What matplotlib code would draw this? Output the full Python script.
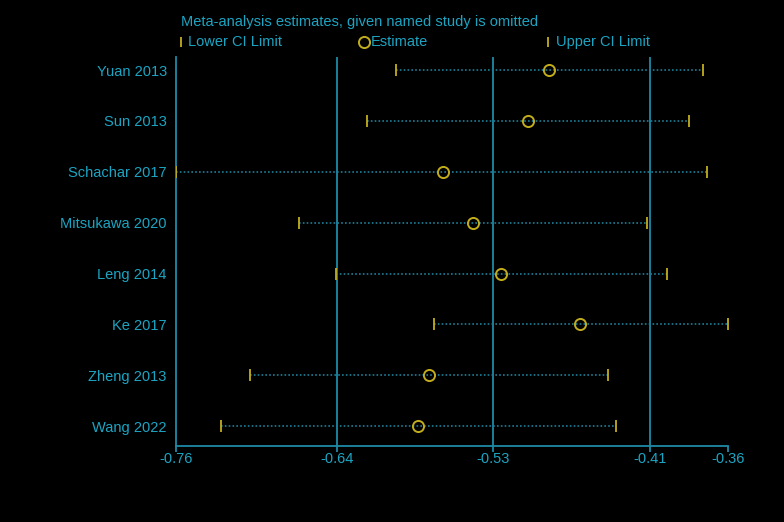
import matplotlib
matplotlib.use("Agg")
import matplotlib.pyplot as plt
from matplotlib.lines import Line2D

studies = ["Yuan 2013", "Sun 2013", "Schachar 2017", "Mitsukawa 2020",
           "Leng 2014", "Ke 2017", "Zheng 2013", "Wang 2022"]
estimate = [-0.490, -0.505, -0.567, -0.545, -0.525, -0.467, -0.577, -0.585]
lower_ci = [-0.601, -0.622, -0.760, -0.671, -0.644, -0.573, -0.707, -0.728]
upper_ci = [-0.378, -0.388, -0.375, -0.419, -0.404, -0.360, -0.447, -0.441]

tick_vals = [-0.760, -0.6436, -0.5304, -0.4166, -0.360]
tick_labels = ["-0.76", "-0.64", "-0.53", "-0.41", "-0.36"]
ref_lines = tick_vals[1:4]

txt_col = "#1ba5c3"
line_col = "#1d8aa6"
dot_col = "#1e7d98"
yel = "#c2ad1c"

plt.rcParams["font.family"] = ["Liberation Sans", "DejaVu Sans"]

fig = plt.figure(figsize=(7.84, 5.22), dpi=100, facecolor="black")
ax = fig.add_axes([0.2251, 0.1456, 0.9286 - 0.2251, 0.8908 - 0.1456])
ax.set_facecolor("black")

n = len(studies)
ypos = list(range(n, 0, -1))

for x in ref_lines:
    ax.axvline(x, color=line_col, lw=1.3, zorder=1)

for y, lo, est, hi in zip(ypos, lower_ci, estimate, upper_ci):
    ax.plot([lo, hi], [y, y], color=dot_col, lw=1.2, ls=(0, (1, 1.3)), zorder=2)
    ax.plot([lo, hi], [y, y], ls="none", marker="|", ms=8.5, mew=1.3, color=yel, zorder=3)
    ax.plot(est, y, ls="none", marker="o", ms=8, mfc="none", mec=yel, mew=1.4, zorder=4)

ax.set_xlim(tick_vals[0], tick_vals[-1])
ax.set_ylim(1 - 0.39, n + 0.256)
ax.set_xticks(tick_vals)
ax.set_xticklabels(tick_labels)
ax.set_yticks(ypos)
ax.set_yticklabels(studies)

for side in ["top", "right"]:
    ax.spines[side].set_visible(False)
for side in ["left", "bottom"]:
    ax.spines[side].set_color(line_col)
    ax.spines[side].set_linewidth(1.3)

ax.tick_params(axis="x", colors=line_col, labelcolor=txt_col, labelsize=10.5,
               length=4, width=1.3, direction="out", pad=0.5)
ax.tick_params(axis="y", length=0, labelcolor=txt_col, labelsize=10.5, pad=7)

# title and legend row above the plot
fig.text(181 / 784, 1 - 22 / 522, "Meta-analysis estimates, given named study is omitted",
         color=txt_col, fontsize=10.5, va="center", ha="left")
leg_y = 1 - 42 / 522
fig.add_artist(Line2D([181 / 784], [leg_y], marker="|", ms=6.5, mew=1.3, color=yel,
                      transform=fig.transFigure))
fig.text(188 / 784, leg_y, "Lower CI Limit", color=txt_col, fontsize=10.5, va="center")
fig.add_artist(Line2D([364 / 784], [leg_y], marker="o", ms=8, mfc="none", mec=yel, mew=1.4,
                      transform=fig.transFigure))
fig.text(371 / 784, leg_y, "Estimate", color=txt_col, fontsize=10.5, va="center")
fig.add_artist(Line2D([548 / 784], [leg_y], marker="|", ms=6.5, mew=1.3, color=yel,
                      transform=fig.transFigure))
fig.text(556 / 784, leg_y, "Upper CI Limit", color=txt_col, fontsize=10.5, va="center")

fig.savefig("out.png", dpi=100, facecolor="black")
